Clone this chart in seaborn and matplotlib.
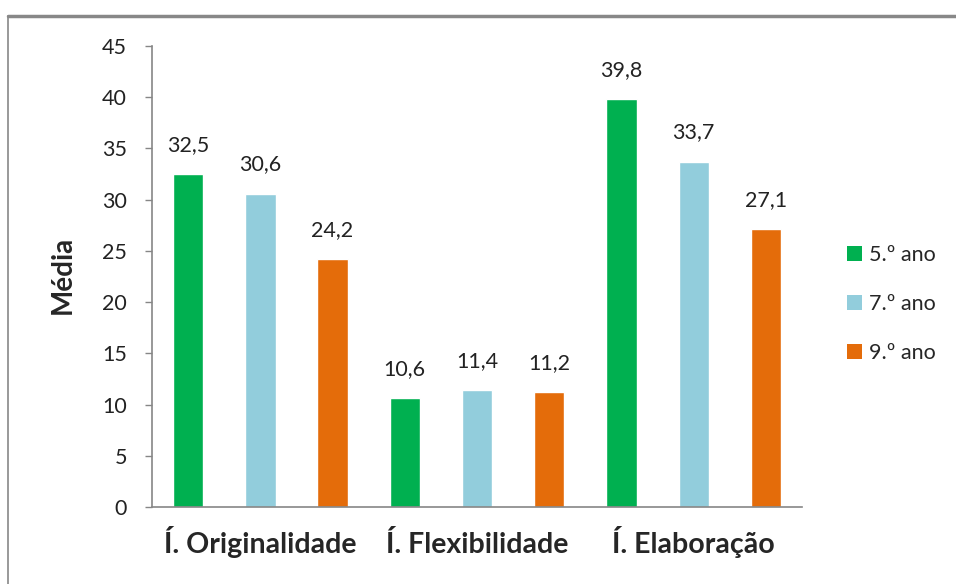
import matplotlib
matplotlib.use("Agg")
import matplotlib.pyplot as plt
import seaborn as sns
import pandas as pd
from matplotlib.lines import Line2D
from matplotlib.patches import Patch

categories = ["Í. Originalidade", "Í. Flexibilidade", "Í. Elaboração"]
series_names = ["5.º ano", "7.º ano", "9.º ano"]
values_5 = [32.5, 10.6, 39.8]
values_7 = [30.6, 11.4, 33.7]
values_9 = [24.2, 11.2, 27.1]
yticks = [0, 5, 10, 15, 20, 25, 30, 35, 40, 45]
colors = ["#00B050", "#92CDDC", "#E46C0A"]

rows = []
for name, vals in zip(series_names, [values_5, values_7, values_9]):
    for c, v in zip(categories, vals):
        rows.append({"cat": c, "ano": name, "val": v})
df = pd.DataFrame(rows)

sns.set_style("white")
plt.rcParams["font.family"] = ["Lato", "DejaVu Sans"]

fig = plt.figure(figsize=(9.56, 5.84), dpi=100)
ax = fig.add_axes([152/956, 1-507/584, (802-152)/956, (507-46)/584])

sns.barplot(data=df, x="cat", y="val", hue="ano", palette=colors, width=1.0,
            gap=0.58, ax=ax, legend=False, saturation=1)

for cont in ax.containers:
    ax.bar_label(cont, labels=[f"{v:.1f}".replace(".", ",") for v in cont.datavalues],
                 padding=14, fontsize=15.5, color="#222222")

ax.set_ylim(0, 45)
ax.set_xlim(-0.5, 2.5)
ax.set_yticks(yticks)
ax.set_yticklabels([str(t) for t in yticks], fontsize=15.5, color="#222222")
ax.tick_params(axis="y", length=5, width=1, color="#868686", direction="out", pad=13, left=True)
ax.tick_params(axis="x", length=0, pad=33)
for lab in ax.get_xticklabels():
    lab.set_fontsize(20.5)
    lab.set_fontweight("bold")
    lab.set_verticalalignment("baseline")
ax.set_xlabel("")
ax.set_ylabel("Média", fontsize=20, fontweight="bold")
ax.yaxis.set_label_coords((76-152)/650, (507-275)/461)
for s in ["top", "right"]:
    ax.spines[s].set_visible(False)
for s in ["left", "bottom"]:
    ax.spines[s].set_color("#868686")
    ax.spines[s].set_linewidth(1.2)

handles = [Patch(facecolor=c, edgecolor="none") for c in colors]
fig.legend(handles, series_names, loc="center left", bbox_to_anchor=(836/956, 1-304/584),
           frameon=False, fontsize=15.5, handlelength=0.7, handleheight=0.7,
           handletextpad=0.35, labelspacing=1.35, borderpad=0)

fig.add_artist(Line2D([8/956, 1.0], [1-16/584, 1-16/584], transform=fig.transFigure,
                      color="#888888", linewidth=2.5))
fig.add_artist(Line2D([8/956, 8/956], [0, 1-16/584], transform=fig.transFigure,
                      color="#888888", linewidth=1.2))

fig.savefig("out.png", dpi=100)
